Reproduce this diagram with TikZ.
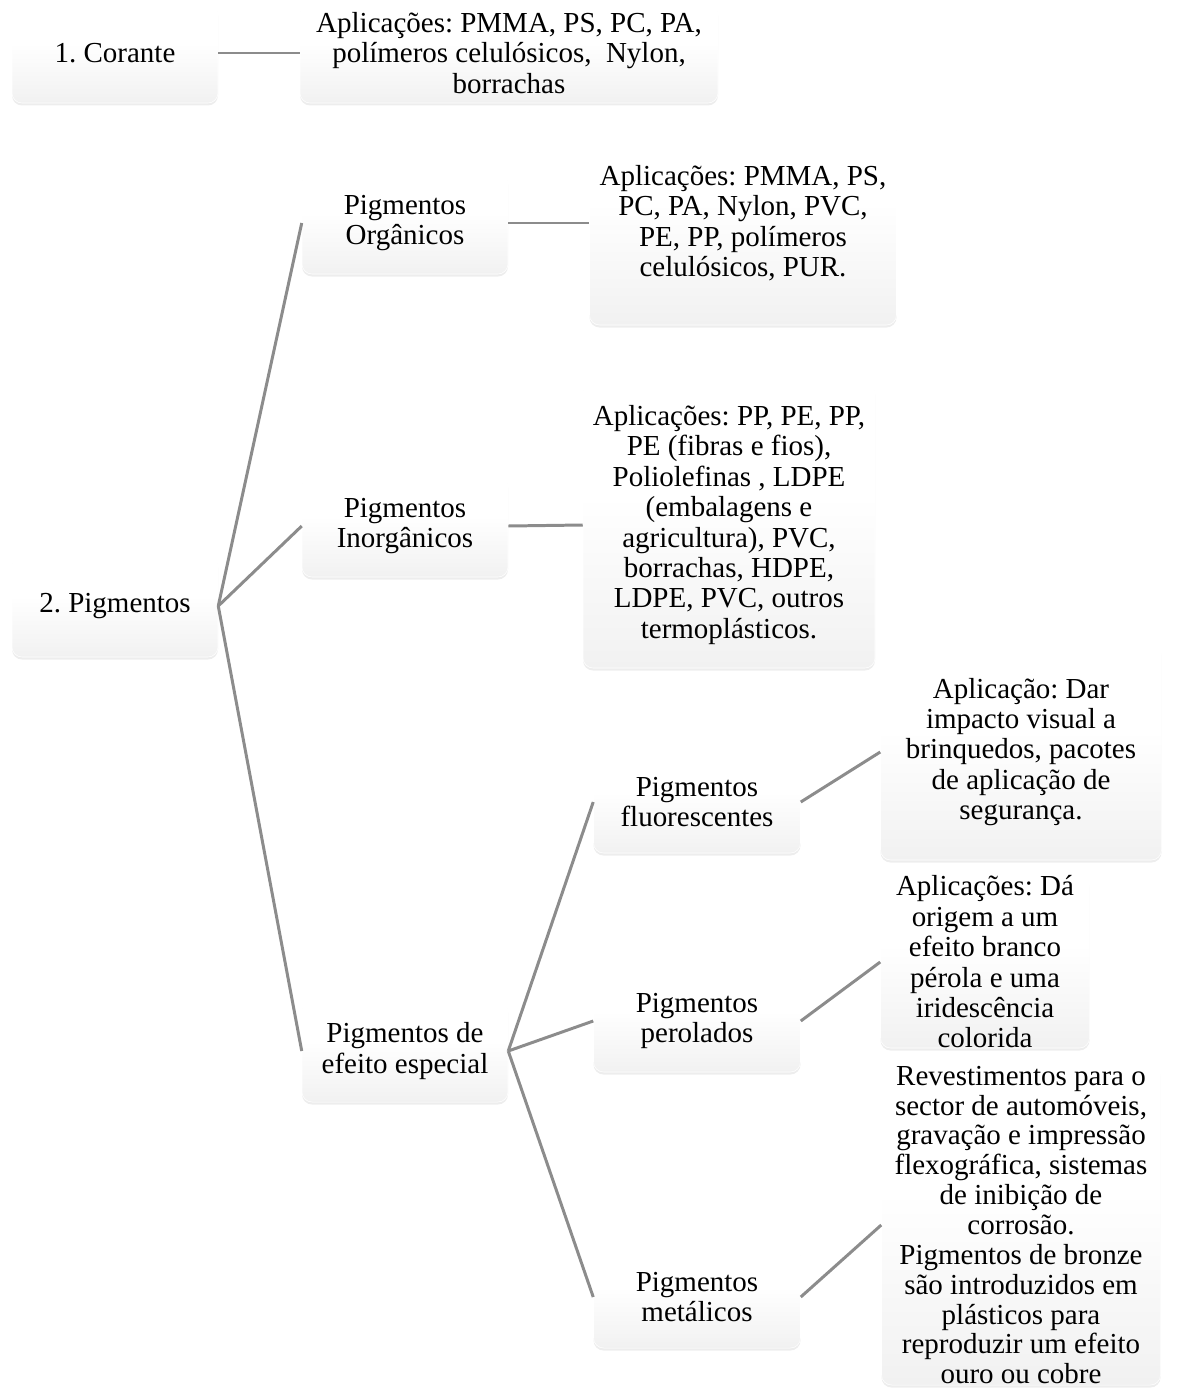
\documentclass[tikz,border=0pt]{standalone}
\usepackage{fontspec}
\setmainfont{Liberation Serif}
\usetikzlibrary{shadows}
\frenchspacing
\pgfdeclareverticalshading{boxshade}{100bp}{color(0bp)=(gray!30); color(8bp)=(gray!18); color(30bp)=(gray!9); color(55bp)=(white); color(100bp)=(white)}
\definecolor{connc}{RGB}{140,140,140}
\tikzset{
  boxsty/.style={rectangle, rounded corners=0.2cm, inner sep=0pt, shading=boxshade,
    draw=white, line width=0.3pt,
    drop shadow={opacity=0.14, shadow xshift=0pt, shadow yshift=-0.05cm}},
  txt/.style={align=center, inner sep=0pt, font=\fontsize{16.5pt}{17.3pt}\selectfont, text=black},
  conn/.style={draw=connc, line width=1.7pt}
}
\newcommand\mybox[5]{\node[boxsty, minimum width={#4*0.02cm}, minimum height={#5*0.02cm}] (#1) at (#2,#3) {};}
\begin{document}
\begin{tikzpicture}[x=0.02cm, y=-0.02cm]
\useasboundingbox (0,0) rectangle (1178,1389);
% boxes
\mybox{cor}{115}{53}{206}{100}
\mybox{cora}{509}{53}{418}{100}
\mybox{pig}{115}{606}{206}{102}
\mybox{org}{405}{223}{206}{102}
\mybox{orga}{743}{223}{307}{204}
\mybox{ino}{405}{526}{206}{102}
\mybox{inoa}{729}{525}{292}{286}
\mybox{esp}{405}{1051}{206}{102}
\mybox{flu}{697}{802}{207}{102}
\mybox{flua}{1021}{752}{281}{216}
\mybox{per}{697}{1021}{207}{102}
\mybox{pera}{985}{962}{209}{172}
\mybox{met}{697}{1297}{207}{102}
\mybox{meta}{1021}{1225}{279}{320}
% connectors
\draw[conn] (cor.east) -- (cora.west);
\draw[conn] (pig.east) -- (org.west);
\draw[conn] (pig.east) -- (ino.west);
\draw[conn] (pig.east) -- (esp.west);
\draw[conn] (org.east) -- (orga.west);
\draw[conn] (ino.east) -- (inoa.west);
\draw[conn] (esp.east) -- (flu.west);
\draw[conn] (esp.east) -- (per.west);
\draw[conn] (esp.east) -- (met.west);
\draw[conn] (flu.east) -- (flua.west);
\draw[conn] (per.east) -- (pera.west);
\draw[conn] (met.east) -- (meta.west);
% texts
\node[txt] (tcor) at (cor.center) {1. Corante};
\node[txt] (tcora) at (cora.center) {Aplicações: PMMA, PS, PC, PA,\\polímeros celulósicos,\ \ Nylon,\\borrachas};
\node[txt] (tpig) at (pig.center) {2. Pigmentos};
\node[txt] (torg) at (org.center) {Pigmentos\\Orgânicos};
\node[txt] (torga) at (orga.center) {Aplicações: PMMA, PS,\\PC, PA, Nylon, PVC,\\PE, PP, polímeros\\celulósicos, PUR.};
\node[txt] (tino) at (ino.center) {Pigmentos\\Inorgânicos};
\node[txt] (tinoa) at (inoa.center) {Aplicações: PP, PE, PP,\\PE (fibras e fios),\\Poliolefinas , LDPE\\(embalagens e\\agricultura), PVC,\\borrachas, HDPE,\\LDPE, PVC, outros\\termoplásticos.};
\node[txt] (tesp) at (esp.center) {Pigmentos de\\efeito especial};
\node[txt] (tflu) at (flu.center) {Pigmentos\\fluorescentes};
\node[txt] (tflua) at (flua.center) {Aplicação: Dar\\impacto visual a\\brinquedos, pacotes\\de aplicação de\\segurança.};
\node[txt] (tper) at (per.center) {Pigmentos\\perolados};
\node[txt] (tpera) at (pera.center) {Aplicações: Dá\\origem a um\\efeito branco\\pérola e uma\\iridescência\\colorida};
\node[txt] (tmet) at (met.center) {Pigmentos\\metálicos};
\node[txt, font=\fontsize{16.5pt}{17pt}\selectfont] (tmeta) at (meta.center) {Revestimentos para o\\sector de automóveis,\\gravação e impressão\\flexográfica, sistemas\\de inibição de\\corrosão.\\Pigmentos de bronze\\são introduzidos em\\plásticos para\\reproduzir um efeito\\ouro ou cobre};
\end{tikzpicture}
\end{document}
